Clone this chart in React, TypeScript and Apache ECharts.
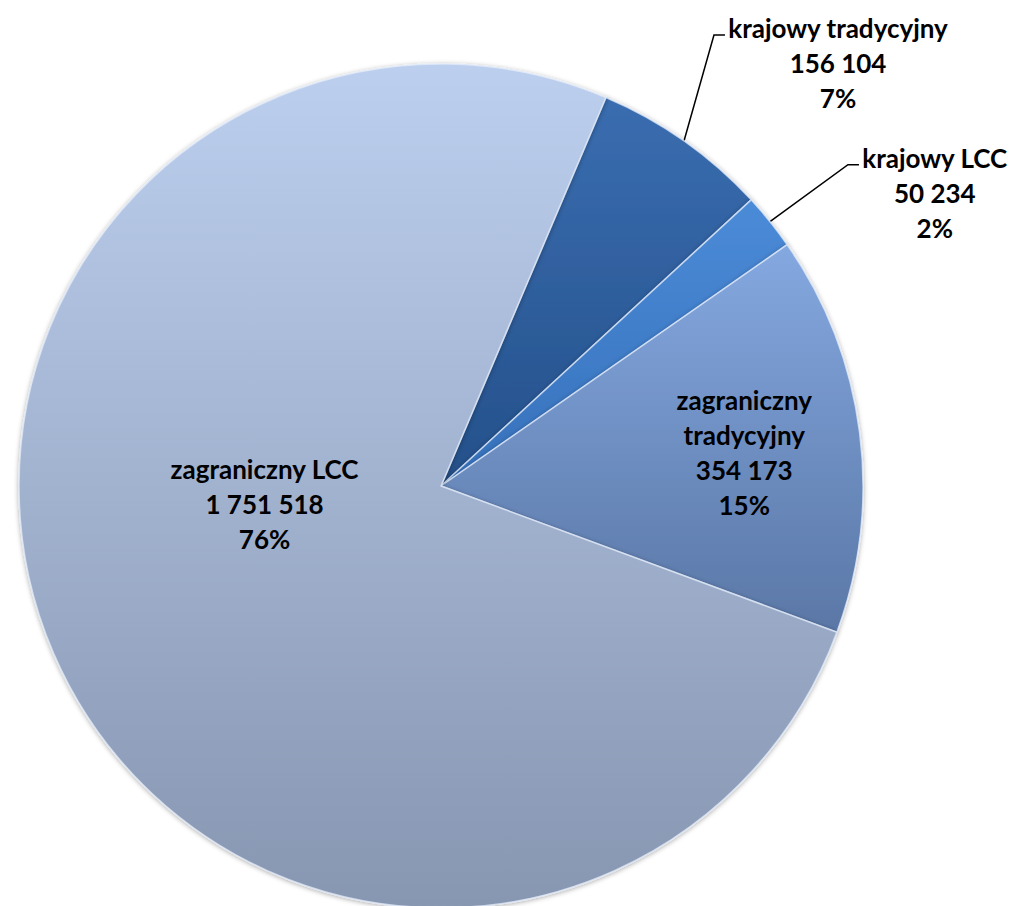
import React, { useEffect, useRef } from 'react';
import * as echarts from 'echarts';

const categories = ['krajowy tradycyjny', 'krajowy LCC', 'zagraniczny tradycyjny', 'zagraniczny LCC'];
const labelNames = ['krajowy tradycyjny', 'krajowy LCC', 'zagraniczny\ntradycyjny', 'zagraniczny LCC'];
const values = [156104, 50234, 354173, 1751518];
const topColors = ['#3a6db0', '#4b8bd8', '#84a8e0', '#bccfee'];
const bottomColors = ['#24508a', '#3670ba', '#5a77a6', '#8796b1'];

const fmt = (v: number) => v.toString().replace(/\B(?=(\d{3})+(?!\d))/g, ' ');

export default function App() {
  const ref = useRef<HTMLDivElement>(null);
  useEffect(() => {
    if (!ref.current) return;
    const chart = echarts.init(ref.current, undefined, { renderer: 'svg' });
    const data = categories.map((name, i) => ({
      name,
      value: values[i],
      itemStyle: {
        color: new echarts.graphic.LinearGradient(0, 0, 0, 1, [
          { offset: 0, color: topColors[i] },
          { offset: 1, color: bottomColors[i] },
        ]),
      },
      label: { position: i < 2 ? 'outside' : 'inside' },
      labelLine: { show: i < 2 },
    }));
    chart.setOption({
      animation: false,
      backgroundColor: '#ffffff',
      series: [
        {
          type: 'pie',
          center: [441, 486],
          radius: 422,
          startAngle: 67,
          clockwise: true,
          data,
          itemStyle: {
            borderColor: 'rgba(225,235,250,0.75)',
            borderWidth: 1.5,
            shadowColor: 'rgba(0,0,0,0.35)',
            shadowBlur: 5,
            shadowOffsetY: 1,
          },
          label: {
            show: true,
            formatter: (p: any) => {
              const lines = [...labelNames[p.dataIndex].split('\n'), fmt(p.value), Math.round(p.percent) + '%'];
              return lines.map((l) => '{c|' + l + '}').join('\n');
            },
            rich: {
              c: {
                align: 'center',
                fontFamily: 'Lato',
                fontWeight: 'bold',
                fontSize: 26,
                lineHeight: 35,
                color: '#000000',
              },
            },
          },
          labelLine: {
            lineStyle: { color: '#000000', width: 1.5 },
          },
          labelLayout: (p: any) => {
            const i = p.dataIndex;
            if (i === 0 || i === 1) {
              const a = p.labelLinePoints && p.labelLinePoints[0];
              if (!a) return {};
              const rise = i === 0 ? [30, -106] : [78, -57];
              const p1 = [a[0] + rise[0], a[1] + rise[1]];
              const p2 = [p1[0] + 11, p1[1]];
              return {
                x: p2[0] + 3,
                y: p2[1] - 24,
                align: 'left',
                verticalAlign: 'top',
                labelLinePoints: [a, p1, p2],
              };
            }
            if (i === 2) return { dx: 91, dy: -6 };
            return { dx: 20, dy: -67 };
          },
        },
      ],
    });
    return () => chart.dispose();
  }, []);
  return (
    <div
      ref={ref}
      style={{ position: 'absolute', left: 0, top: 0, width: 1019, height: 906 }}
    />
  );
}
